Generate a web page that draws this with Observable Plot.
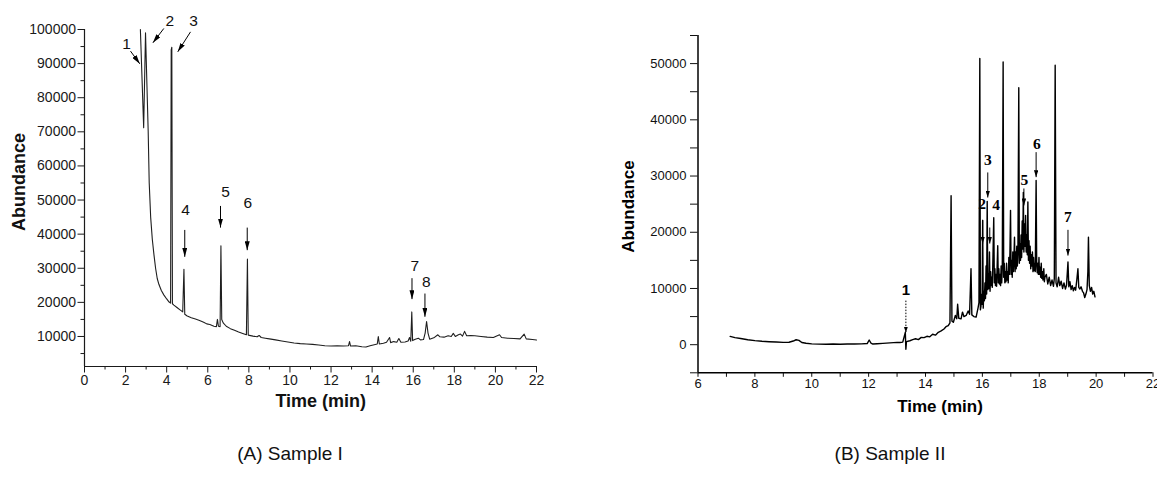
<!DOCTYPE html>
<html>
<head>
<meta charset="utf-8">
<script src="https://cdn.jsdelivr.net/npm/d3@7"></script>
<script src="https://cdn.jsdelivr.net/npm/@observablehq/plot@0.6"></script>
<style>
  body { margin: 0; background: #fff; }
  #wrap { position: relative; width: 1157px; height: 478px; overflow: hidden; background: #fff;
          font-family: "Liberation Sans", Arial, sans-serif; }
  .panel { position: absolute; top: 0; }
  .cap { position: absolute; top: 443px; font-size: 19px; color: #111; transform: translateX(-50%); white-space: nowrap; }
</style>
</head>
<body>
<div id="wrap">
  <div class="panel" id="pa" style="left:0px"></div>
  <div class="panel" id="pb" style="left:600px"></div>
  <div class="cap" style="left:290px">(A) Sample I</div>
  <div class="cap" style="left:890px">(B) Sample II</div>
</div>
<script>
// ---------- Sample I (panel A) ----------
const timeA = [2.72,2.88,2.97,3.10,3.15,3.22,3.30,3.38,3.46,3.54,3.62,3.74,3.86,4.00,4.12,4.19,4.22,4.25,4.28,4.35,4.50,4.65,4.78,4.84,4.88,5.00,5.20,5.40,5.60,5.80,5.95,6.10,6.30,6.42,6.47,6.52,6.60,6.64,6.68,6.75,6.90,7.10,7.30,7.50,7.70,7.88,7.93,7.97,8.20,8.40,8.50,8.60,8.80,9.00,9.30,9.60,9.90,10.20,10.50,10.80,11.10,11.40,11.70,12.00,12.30,12.60,12.85,12.90,12.95,13.20,13.50,13.70,13.90,14.10,14.25,14.30,14.35,14.55,14.70,14.85,14.90,15.05,15.20,15.30,15.40,15.60,15.75,15.82,15.88,15.93,15.97,16.10,16.25,16.35,16.50,16.58,16.65,16.72,16.80,17.00,17.20,17.30,17.50,17.70,17.85,17.95,18.05,18.20,18.30,18.40,18.50,18.60,18.80,19.00,19.30,19.60,19.90,20.20,20.30,20.60,20.90,21.20,21.40,21.50,21.80,22.00];
const abundA = [100000,71200,99000,70000,55000,45000,38500,34000,30000,27000,25300,23500,22200,21000,20100,19800,94000,94800,19600,19200,18500,17800,17200,29700,16500,16000,15500,15100,14700,14200,13700,13500,13000,12900,15000,13000,12900,36600,15000,14000,13000,12300,11800,11300,10900,10500,32700,10400,10100,9900,10300,9700,9500,9300,9000,8700,8400,8100,7900,7800,7700,7500,7300,7200,7300,7200,7300,8500,7200,7300,7000,6900,7300,7600,7800,10000,7800,8000,8300,9700,8200,8500,8300,9400,8300,8400,8700,9700,8600,17200,8800,9200,9500,9000,9100,11000,14400,11000,9200,9600,10500,9900,9800,10200,10000,10900,10000,10500,10700,10100,11500,10200,10300,10200,10000,9800,9700,10500,9700,9500,9400,9300,10700,9300,9100,8950];

const labelsA  = ["1","2","3","4","5","6","7","8"];
const labelTA  = [2.05,4.15,5.31,4.92,6.87,7.95,16.08,16.64];
const labelYA  = [95800,102600,102600,47000,52460,49240,30700,26100];
const arrowT1A = [2.24,3.86,5.16,4.88,6.62,7.92,15.94,16.57];
const arrowY1A = [93660,100300,99300,41240,48270,41920,27100,22590];
const arrowT2A = [2.69,3.33,4.54,4.88,6.62,7.92,15.94,16.57];
const arrowY2A = [89940,96100,93460,33340,41920,35300,20950,15770];

const xMajorA = [0,2,4,6,8,10,12,14,16,18,20,22];
const xMinorA = [1,3,5,7,9,11,13,15,17,19,21];
const yMajorA = [10000,20000,30000,40000,50000,60000,70000,80000,90000,100000];
const yMinorA = [5000,15000,25000,35000,45000,55000,65000,75000,85000,95000];

// ---------- Sample II (panel B) ----------
const timeB = [7.13,7.3,7.5,7.75,8.0,8.25,8.5,8.75,9.0,9.2,9.35,9.45,9.55,9.65,9.8,10.0,10.25,10.5,10.75,11.0,11.25,11.5,11.75,11.95,12.02,12.08,12.15,12.3,12.5,12.75,13.0,13.1,13.2,13.29,13.31,13.33,13.45,13.55,13.65,13.75,13.85,13.95,14.05,14.15,14.25,14.35,14.45,14.55,14.65,14.72,14.8,14.86,14.9,14.93,14.98,15.05,15.1,15.13,15.17,15.25,15.3,15.35,15.43,15.5,15.55,15.6,15.63,15.7,15.78,15.85,15.88,
  15.91,15.93,15.95,15.97,15.99,16.01,16.03,16.05,16.07,16.09,16.11,16.13,16.15,16.17,16.19,16.21,16.23,16.25,16.27,16.29,16.31,16.33,16.35,16.37,16.40,16.42,16.44,16.46,16.48,16.50,16.52,16.54,16.56,16.58,16.60,16.62,16.64,16.66,16.68,16.70,16.73,16.75,16.77,16.79,16.81,16.83,16.85,16.87,16.89,16.91,16.93,16.95,16.97,16.99,17.01,17.03,17.05,17.07,17.09,17.11,17.13,17.15,17.17,17.19,17.21,17.23,17.25,17.28,17.30,17.32,17.34,17.36,17.38,17.40,17.42,17.44,17.46,17.48,17.50,17.52,17.54,17.56,17.58,17.60,17.62,17.64,17.66,17.68,17.70,17.72,17.74,17.76,17.78,17.80,17.82,17.84,17.86,17.89,17.91,17.93,17.95,17.97,17.99,18.01,18.03,18.05,18.07,18.09,18.11,18.13,18.16,18.18,18.20,
  18.25,18.3,18.35,18.4,18.45,18.5,18.53,18.56,18.59,18.63,18.68,18.72,18.77,18.82,18.87,18.92,18.96,19.01,19.04,19.08,19.12,19.16,19.2,19.24,19.28,19.32,19.36,19.39,19.43,19.47,19.52,19.56,19.6,19.64,19.68,19.71,19.73,19.76,19.8,19.84,19.88,19.92,19.96];
const abundB = [1480,1250,1100,880,720,600,530,470,420,430,650,880,760,380,250,150,100,90,110,90,120,130,150,200,830,300,120,180,230,320,420,380,450,2200,-800,550,700,900,1050,900,1300,1250,1500,1400,1850,1700,2200,2450,2800,3200,3400,3900,26500,4200,4000,5200,4600,7200,4700,4600,5800,5000,5200,6000,5400,13500,5300,5000,4900,6600,7500,
  50900,6200,6800,9000,7200,22100,6500,9500,7800,11000,8200,14000,9000,25500,9800,12500,10000,16500,9500,13000,10500,12000,10200,15000,22600,11000,13500,10500,12500,10400,14000,17600,11000,13500,10800,12500,10500,14000,11000,13500,50300,12000,14500,11000,13000,11200,14500,11500,13000,11000,15500,12500,16500,23900,12500,15000,12000,16500,13000,15500,19100,13000,16500,13500,17500,14000,16000,45700,14500,18000,15000,19500,15500,22000,17000,27100,16500,21500,17500,23000,16500,19500,16000,25400,15000,18500,14500,17500,13500,16000,14000,16500,13000,15500,13200,14500,13000,29200,14000,12800,14500,12500,15500,12500,13800,12000,14500,11800,13000,11500,13500,11200,12000,
  12500,10800,12000,10500,11500,10400,11800,49700,11000,10300,12000,10500,11300,10000,11000,9900,10600,14700,10300,11200,9800,10500,9600,10200,9700,11500,13500,10200,9900,10300,9500,9200,8400,9000,9800,13000,19100,10500,9500,10200,9000,9500,8500];

const labelsB  = ["1","2","3","4","5","6","7"];
const labelTB  = [13.31,15.99,16.19,16.48,17.48,17.92,19.01];
const labelYB  = [9620,24940,32780,24760,29210,35620,22680];
const arrowT1B = [13.31,16.01,16.19,16.26,17.46,17.89,19.01];
const arrowY1B = [7840,22210,30640,20840,27790,34250,20430];
const arrowT2B = [13.31,16.01,16.19,16.26,17.46,17.89,19.01];
const arrowY2B = [2140,17990,26180,17990,24760,29800,15850];

const xMajorB = [6,8,10,12,14,16,18,20,22];
const xMinorB = [7,9,11,13,15,17,19,21];
const yMajorB = [0,10000,20000,30000,40000,50000];
const yMinorB = [-5000,5000,15000,25000,35000,45000,55000];

// ---------- helpers ----------
const seriesA = timeA.map((t, i) => ({t, a: abundA[i]}));
const seriesB = timeB.map((t, i) => ({t, a: abundB[i]}));
const annA = labelsA.map((l, i) => ({l, tx: labelTA[i], ty: labelYA[i], x1: arrowT1A[i], y1: arrowY1A[i], x2: arrowT2A[i], y2: arrowY2A[i]}));
const annB = labelsB.map((l, i) => ({l, tx: labelTB[i], ty: labelYB[i], x1: arrowT1B[i], y1: arrowY1B[i], x2: arrowT2B[i], y2: arrowY2B[i]}));

function head(w, len) {
  return (color, context) => {
    const doc = (context && context.document) || document;
    const ns = "http://www.w3.org/2000/svg";
    const m = doc.createElementNS(ns, "marker");
    m.setAttribute("viewBox", `${-len} ${-w / 2} ${len} ${w}`);
    m.setAttribute("markerWidth", len);
    m.setAttribute("markerHeight", w);
    m.setAttribute("markerUnits", "userSpaceOnUse");
    m.setAttribute("refX", 0);
    m.setAttribute("refY", 0);
    m.setAttribute("orient", "auto");
    const p = doc.createElementNS(ns, "path");
    p.setAttribute("d", `M${-len},${-w / 2}L0,0L${-len},${w / 2}Z`);
    p.setAttribute("fill", "#000");
    p.setAttribute("stroke", "none");
    m.appendChild(p);
    return m;
  };
}

const FONT = '"Liberation Sans", Arial, Helvetica, sans-serif';

const chartA = Plot.plot({
  width: 580, height: 420,
  marginLeft: 84, marginRight: 44, marginTop: 29, marginBottom: 54,
  x: {domain: [0, 22]},
  y: {domain: [1200, 100000]},
  style: {fontFamily: FONT, fontSize: "14px", color: "#1a1a1a", background: "transparent", overflow: "visible"},
  marks: [
    Plot.axisX(xMajorA, {tickSize: 6.5, tickPadding: 2, label: null, fontSize: 14}),
    Plot.axisX(xMinorA, {tickSize: 3.5, text: null, label: null}),
    Plot.axisY(yMajorA, {tickSize: 6.5, tickPadding: 2, label: null, tickFormat: "d", fontSize: 14}),
    Plot.axisY(yMinorA, {tickSize: 3.5, text: null, label: null}),
    Plot.ruleX([0], {stroke: "#1a1a1a", strokeWidth: 1.2}),
    Plot.ruleY([1200], {stroke: "#1a1a1a", strokeWidth: 1.2}),
    Plot.line(seriesA, {x: "t", y: "a", stroke: "#1f1f1f", strokeWidth: 1.1}),
    Plot.link(annA, {x1: "x1", y1: "y1", x2: "x2", y2: "y2", stroke: "#000", strokeWidth: 1, markerEnd: head(5, 9)}),
    Plot.text(annA, {x: "tx", y: "ty", text: "l", fontSize: 15.5, fill: "#111"}),
    Plot.text(["Time (min)"], {x: 11.5, frameAnchor: "bottom", dy: 35, textAnchor: "middle", lineAnchor: "middle", fontSize: 18, fontWeight: "bold", fill: "#111"}),
    Plot.text(["Abundance"], {y: 55300, frameAnchor: "left", dx: -65.5, textAnchor: "middle", lineAnchor: "middle", rotate: -90, fontSize: 18, fontWeight: "bold", fill: "#111"})
  ]
});
document.getElementById("pa").appendChild(chartA);

const chartB = Plot.plot({
  width: 557, height: 420,
  marginLeft: 97.5, marginRight: 4.5, marginTop: 35, marginBottom: 47.7,
  x: {domain: [6, 22]},
  y: {domain: [-5000, 55000]},
  style: {fontFamily: FONT, fontSize: "13px", color: "#111", background: "transparent", overflow: "visible"},
  marks: [
    Plot.axisX(xMajorB, {tickSize: 4.5, tickPadding: 1, label: null, fontSize: 13}),
    Plot.axisX(xMinorB, {tickSize: 4.5, text: null, label: null}),
    Plot.axisY(yMajorB, {tickSize: 7.5, tickPadding: 4, label: null, tickFormat: "d", fontSize: 13}),
    Plot.axisY(yMinorB, {tickSize: 7.5, text: null, label: null}),
    Plot.ruleX([6], {stroke: "#000", strokeWidth: 1.5}),
    Plot.ruleY([-5000], {stroke: "#000", strokeWidth: 1.5}),
    Plot.line(seriesB, {x: "t", y: "a", stroke: "#000", strokeWidth: 1.4}),
    Plot.link(annB.filter(d => d.l === "1"), {x1: "x1", y1: "y1", x2: "x2", y2: "y2", stroke: "#000", strokeWidth: 1, strokeDasharray: "1.5,1.5", markerEnd: head(4, 6)}),
    Plot.link(annB.filter(d => d.l !== "1"), {x1: "x1", y1: "y1", x2: "x2", y2: "y2", stroke: "#000", strokeWidth: 1, markerEnd: head(4.5, 7)}),
    Plot.text(annB.filter(d => d.l === "1"), {x: "tx", y: "ty", text: "l", fontSize: 15, fontWeight: "bold", fill: "#000"}),
    Plot.text(annB.filter(d => d.l !== "1"), {x: "tx", y: "ty", text: "l", fontSize: 15.5, fontWeight: "bold", fontFamily: '"Liberation Serif", "Times New Roman", serif', fill: "#000"}),
    Plot.text(["Time (min)"], {x: 14.51, frameAnchor: "bottom", dy: 34, textAnchor: "middle", lineAnchor: "middle", fontSize: 17, fontWeight: "bold", fill: "#000"}),
    Plot.text(["Abundance"], {y: 24580, frameAnchor: "left", dx: -69, textAnchor: "middle", lineAnchor: "middle", rotate: -90, fontSize: 17, fontWeight: "bold", fill: "#000"})
  ]
});
document.getElementById("pb").appendChild(chartB);
</script>
</body>
</html>
